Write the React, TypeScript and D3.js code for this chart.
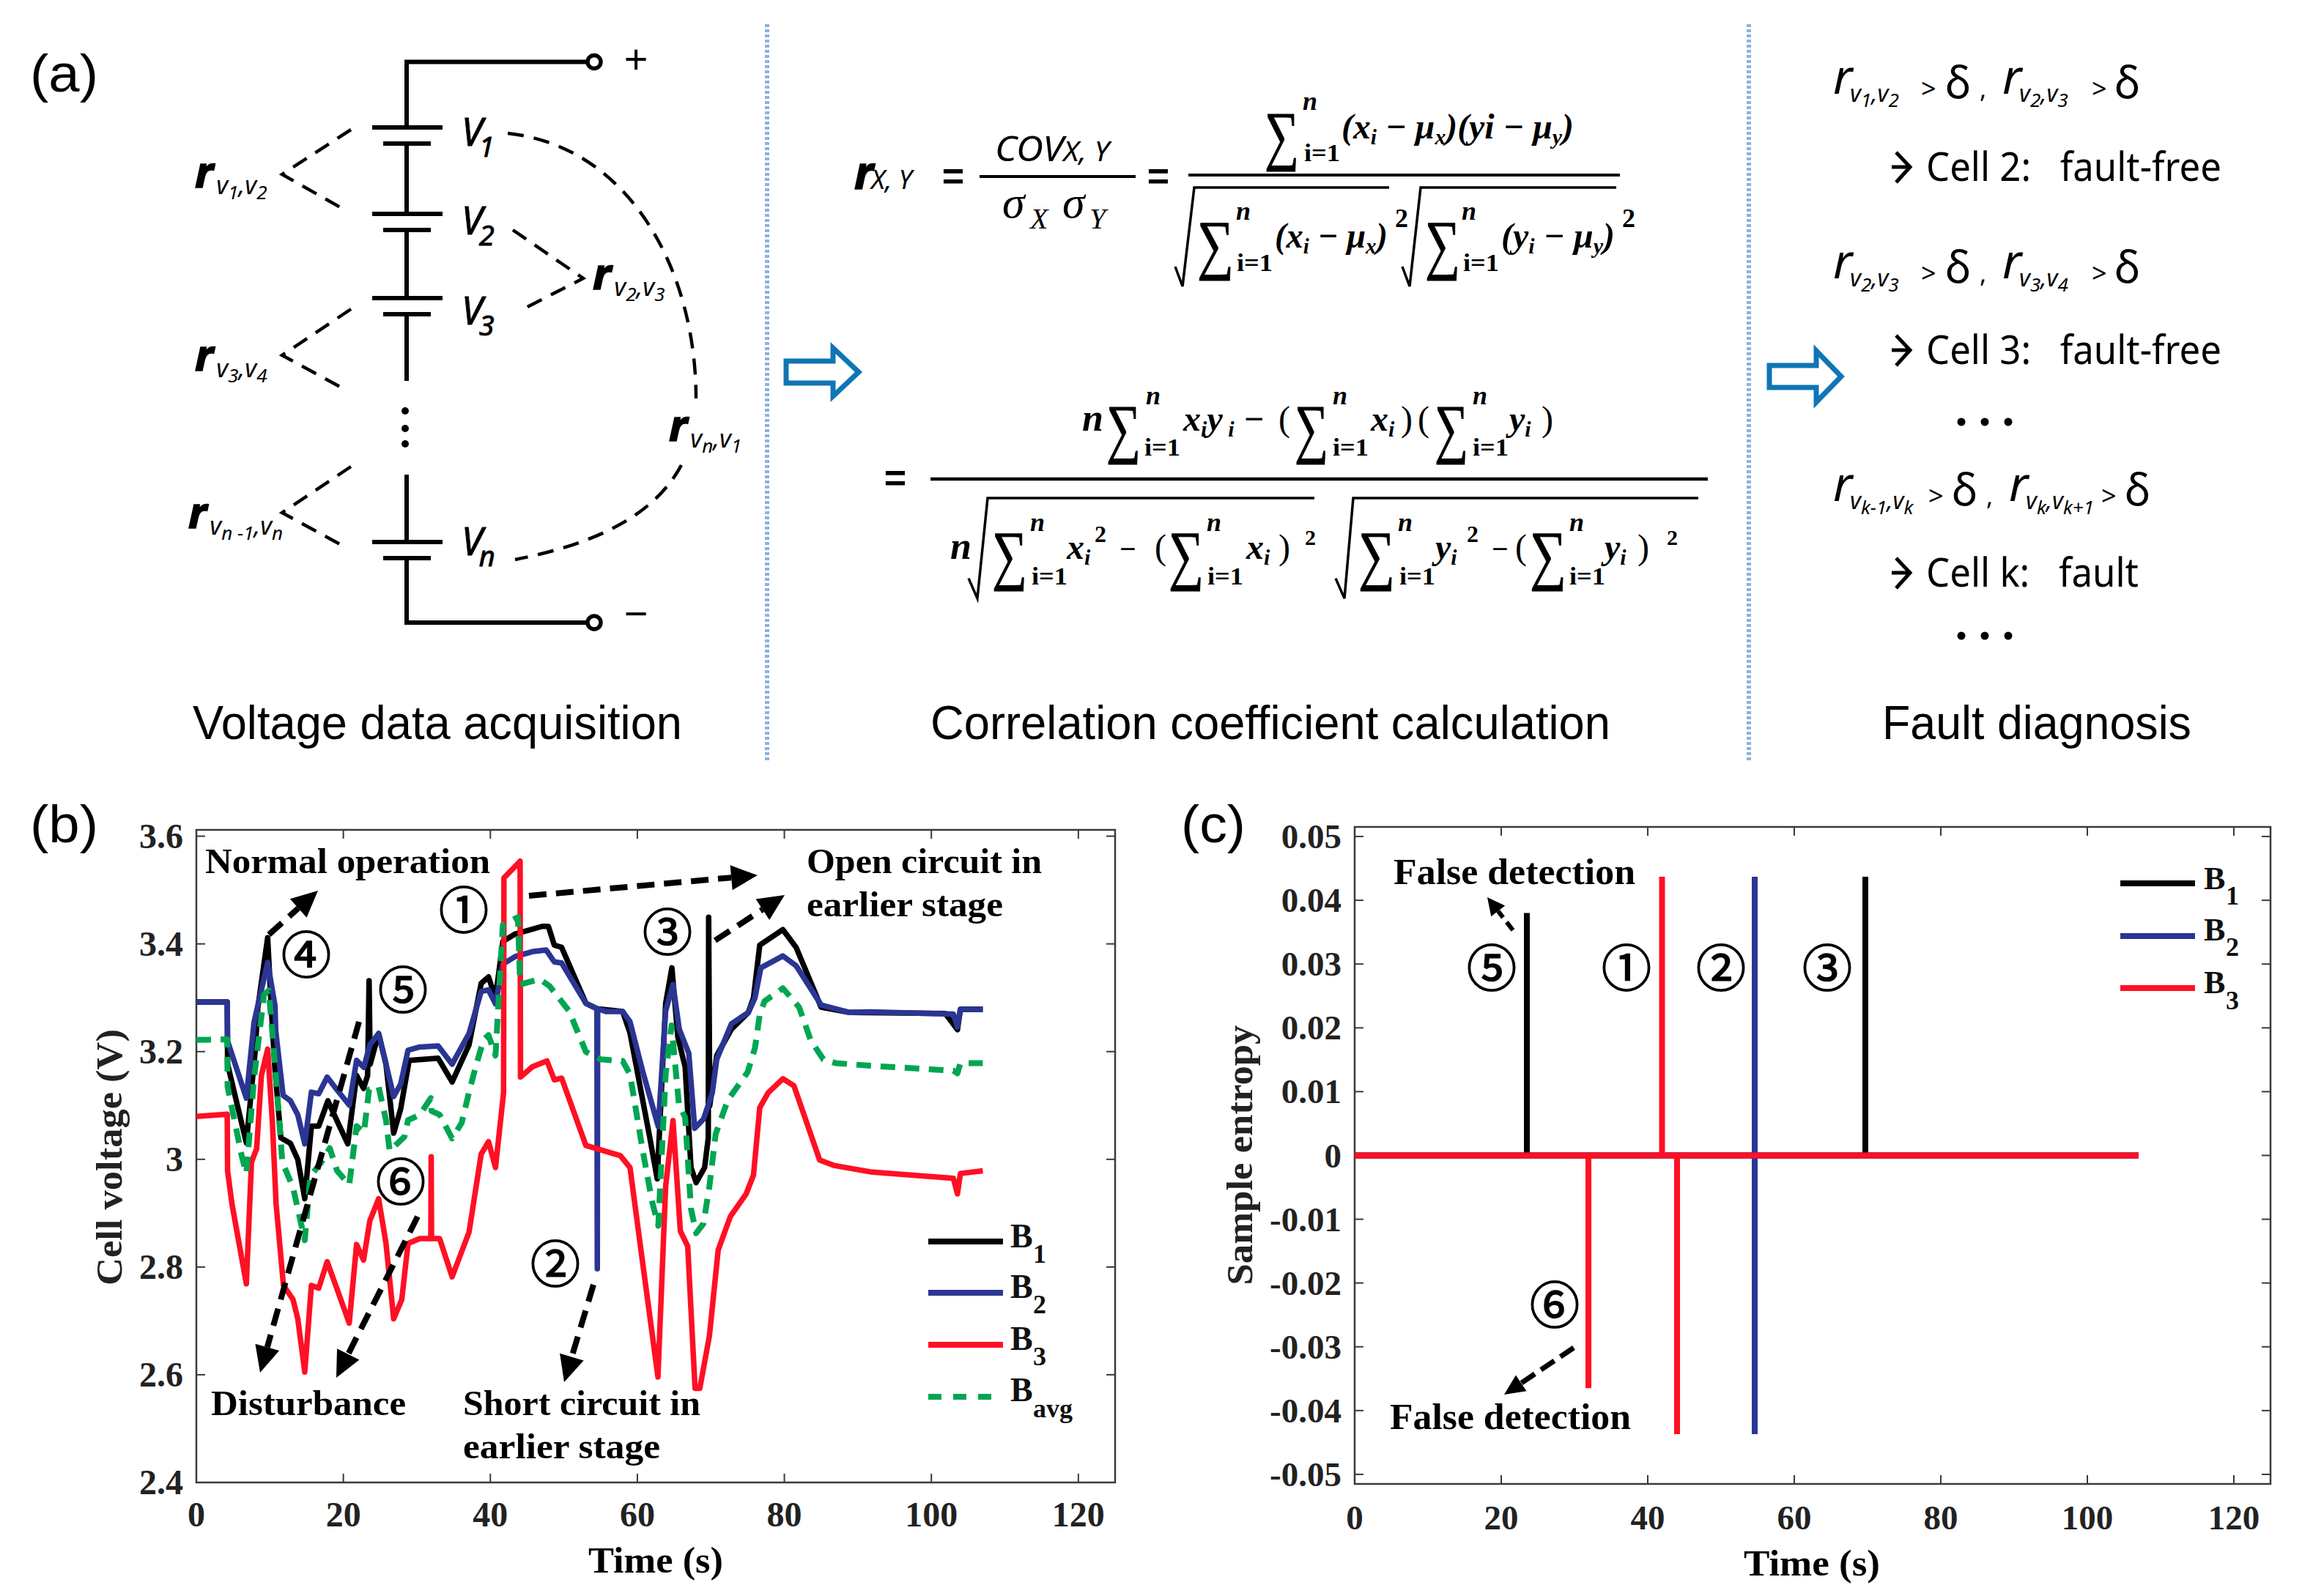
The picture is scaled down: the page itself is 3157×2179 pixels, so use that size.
import React from "react";
import * as d3 from "d3";

// ---------- data: panel (b) cell voltage, [time s, voltage V] ----------
const b1Points: [number, number][] = [[0,3.2925],[4.2,3.2925],[4.25,3.177],[6.8,3.031],[8,3.2],[8.35,3.28],[9.7,3.412],[10.2,3.28],[10.7,3.166],[11.5,3.04],[12.8,3.03],[13.8,3.0],[14.75,2.927],[15.65,3.062],[16.65,3.062],[17.9,3.109],[19.1,3.073],[20.6,3.029],[21.8,3.156],[22.75,3.132],[23.3,3.156],[23.5,3.332],[23.65,3.177],[24.8,3.234],[25.8,3.177],[26.85,3.049],[27.8,3.094],[28.95,3.184],[32.9,3.188],[34.8,3.144],[37.1,3.213],[38.75,3.327],[39.75,3.339],[40.7,3.3],[41.7,3.405],[43.4,3.419],[47.05,3.433],[47.9,3.433],[48.7,3.398],[49.7,3.394],[53,3.29],[54.5,3.28],[58,3.275],[59,3.235],[61.7,3.04],[62.7,2.964],[63.85,3.29],[64.7,3.356],[65.5,3.228],[66.5,3.172],[67.3,2.985],[68,2.957],[69.15,2.985],[69.65,3.04],[69.7,3.45],[69.85,3.1],[70.8,3.193],[72.8,3.242],[75.1,3.273],[75.8,3.3],[76.65,3.398],[79.8,3.427],[81.6,3.394],[85,3.283],[88.9,3.273],[101.9,3.271],[103.55,3.241],[103.95,3.279],[107,3.279]];
const b2Points: [number, number][] = [[0,3.2925],[4.2,3.2925],[4.25,3.22],[6.8,3.114],[7.85,3.255],[9.7,3.366],[10.7,3.286],[10.8,3.239],[11.8,3.119],[12.8,3.109],[13.8,3.083],[14.75,3.029],[15.65,3.125],[16.65,3.122],[17.8,3.153],[19.1,3.13],[20.8,3.101],[21.8,3.184],[22.8,3.171],[23.6,3.213],[24.8,3.234],[25.8,3.177],[26.85,3.117],[27.8,3.14],[28.8,3.203],[30.4,3.209],[32.9,3.211],[34.8,3.177],[37.1,3.234],[38.75,3.312],[39.75,3.315],[40.7,3.289],[41.7,3.363],[43.4,3.377],[45.7,3.386],[47.6,3.389],[48.7,3.367],[49.7,3.365],[53,3.29],[54.5,3.28],[54.55,2.797],[54.6,3.28],[55.7,3.275],[58,3.275],[59,3.256],[60.7,3.165],[62.85,3.061],[63.85,3.276],[64.85,3.325],[65.7,3.242],[67,3.197],[67.8,3.058],[69,3.075],[70.2,3.124],[70.8,3.186],[72.8,3.252],[75.1,3.273],[76,3.3],[76.8,3.356],[79.8,3.378],[81.6,3.36],[85,3.287],[88.9,3.273],[91.7,3.274],[103,3.27],[103.55,3.246],[103.95,3.279],[107,3.279]];
const b3Points: [number, number][] = [[0,3.08],[4.2,3.084],[4.25,2.979],[4.85,2.917],[6.8,2.769],[7.5,2.995],[8.2,3.02],[8.85,3.156],[9.7,3.205],[10.35,3.068],[10.85,2.917],[11.85,2.766],[13.15,2.74],[13.8,2.704],[14.75,2.605],[15.65,2.766],[16.65,2.761],[17.8,2.81],[19.1,2.761],[20.8,2.696],[21.8,2.842],[22.75,2.813],[23.6,2.886],[24.8,2.927],[25.8,2.844],[26.85,2.704],[27.95,2.74],[28.8,2.844],[30.4,2.853],[31.9,2.853],[31.95,3.005],[32,2.853],[33.1,2.853],[34.8,2.782],[37.1,2.865],[38.75,3.01],[39.75,3.033],[40.7,2.985],[41.8,3.124],[41.85,3.523],[44.05,3.554],[44.1,3.153],[45.7,3.172],[47.7,3.183],[48.7,3.148],[49.7,3.151],[53,3.026],[57.7,3.007],[59,2.985],[60.35,2.846],[62.8,2.596],[63.85,2.95],[64.85,3.072],[65.85,2.867],[66.85,2.839],[67.85,2.575],[68.5,2.575],[69.8,2.672],[71,2.832],[72.65,2.894],[74.8,2.936],[75.8,2.971],[76.65,3.096],[77.8,3.124],[79.8,3.15],[81.3,3.137],[84.8,2.999],[86.7,2.989],[91.7,2.977],[103,2.965],[103.55,2.936],[103.95,2.974],[107,2.979]];
const bAvgPoints: [number, number][] = [[0,3.222],[4.2,3.223],[4.25,3.135],[6.2,3.005],[6.8,2.974],[7.85,3.151],[9.2,3.306],[9.85,3.314],[10.7,3.177],[11.7,2.995],[13.15,2.948],[14.75,2.85],[15.5,2.969],[17,2.995],[18.15,3.021],[19.15,2.979],[20.8,2.953],[21.8,3.062],[22.8,3.05],[23.5,3.13],[24.8,3.135],[25.8,3.073],[26.3,3.016],[28.3,3.042],[28.8,3.073],[30.4,3.083],[31.9,3.114],[32,3.09],[33.1,3.083],[34.8,3.039],[36.1,3.068],[37.1,3.125],[38.1,3.177],[39.1,3.223],[39.75,3.231],[40.7,3.193],[41.7,3.436],[43.75,3.45],[44.05,3.325],[46.7,3.335],[48.05,3.322],[50.7,3.276],[53,3.2],[55,3.186],[58,3.183],[59,3.158],[60.7,3.019],[62,2.922],[62.85,2.877],[63.85,3.158],[64.65,3.249],[65.65,3.103],[66.5,3.078],[67.3,2.908],[68,2.863],[69,2.881],[69.8,2.95],[70.65,3.047],[72.3,3.11],[75,3.162],[76,3.207],[76.65,3.269],[77.3,3.294],[79.8,3.318],[82,3.283],[83.6,3.221],[85.3,3.186],[87,3.179],[91.7,3.174],[103,3.165],[103.55,3.16],[103.95,3.179],[107,3.179]];

// ---------- data: panel (c) sample entropy ----------
const c1Points: [number, number][] = [[0,0],[23.5,0],[23.5,0.038],[23.5,0],[69.7,0],[69.7,0.0437],[69.7,0],[107,0]];
const c2Points: [number, number][] = [[0,0],[54.6,0],[54.6,0.0437],[54.6,-0.0437],[54.6,0],[107,0]];
const c3Points: [number, number][] = [[0,0],[31.9,0],[31.9,-0.0365],[31.9,0],[41.95,0],[41.95,0.0437],[41.95,0],[44,0],[44,-0.0437],[44,0],[107,0]];

const bXTicks = [0, 20, 40, 60, 80, 100, 120];
const bYTicks = [3.6, 3.4, 3.2, 3, 2.8, 2.6, 2.4];
const cXTicks = [0, 20, 40, 60, 80, 100, 120];
const cYTicks = [0.05, 0.04, 0.03, 0.02, 0.01, 0, -0.01, -0.02, -0.03, -0.04, -0.05];

const BLACK = "#000000";
const BLUE = "#2b3593";
const RED = "#ff1024";
const GREEN = "#00a651";
const SERIF = "'Liberation Serif', serif";
const SANS = "'Liberation Sans', sans-serif";
const NOTO = "'Noto Sans', sans-serif";
const CJK = "'Noto Sans CJK JP', sans-serif";

// ---------- helpers ----------
type Pt = [number, number];

function DashArrow({ from, to, head = 36, w = 34, sw = 8, dash = "24 13" }: { from: Pt; to: Pt; head?: number; w?: number; sw?: number; dash?: string }) {
  const dx = to[0] - from[0], dy = to[1] - from[1];
  const L = Math.hypot(dx, dy), ux = dx / L, uy = dy / L;
  const bx = to[0] - ux * head, by = to[1] - uy * head;
  const pts = [to, [bx - uy * w / 2, by + ux * w / 2], [bx + uy * w / 2, by - ux * w / 2]].map((p) => p.join(",")).join(" ");
  return (
    <g>
      <line x1={from[0]} y1={from[1]} x2={bx} y2={by} stroke="#000" strokeWidth={sw} strokeDasharray={dash} />
      <polygon points={pts} fill="#000" />
    </g>
  );
}

function Circled({ c, x, y, size = 68 }: { c: string; x: number; y: number; size?: number }) {
  return <text x={x} y={y + size * 0.36} textAnchor="middle" fontFamily={CJK} fontSize={size} fill="#000" stroke="#000" strokeWidth={1.6}>{c}</text>;
}

function Cap({ x, y, w, size, children, family = SERIF, weight = "bold" }: { x: number; y: number; w: number; size: number; children: React.ReactNode; family?: string; weight?: string }) {
  return <text x={x} y={y} fontFamily={family} fontWeight={weight} fontSize={size} textLength={w} lengthAdjust="spacingAndGlyphs" fill="#000">{children}</text>;
}

function LegendEntry({ x1, x2, y, color, tx, ty, sub, subX, subY, size, subSize, dash }: any) {
  return (
    <g>
      <line x1={x1} x2={x2} y1={y} y2={y} stroke={color} strokeWidth={8} strokeDasharray={dash} />
      <text x={tx} y={ty} fontFamily={SERIF} fontWeight="bold" fontSize={size} fill="#111">B</text>
      <text x={subX} y={subY} fontFamily={SERIF} fontWeight="bold" fontSize={subSize} fill="#111">{sub}</text>
    </g>
  );
}

function Axes({ x, y, xTicks, yTicks, fs }: { x: d3.ScaleLinear<number, number>; y: d3.ScaleLinear<number, number>; xTicks: number[]; yTicks: number[]; fs: { xBase: number; yRight: number; size: number } }) {
  const [x0, x1] = x.range();
  const [y0, y1] = y.range();
  const color = "#3a3a3a";
  return (
    <g>
      <rect x={x0} y={y1} width={x1 - x0} height={y0 - y1} fill="none" stroke={color} strokeWidth={2.5} />
      {xTicks.map((t) => (
        <g key={t}>
          <line x1={x(t)} x2={x(t)} y1={y0} y2={y0 - 12} stroke={color} strokeWidth={2} />
          <line x1={x(t)} x2={x(t)} y1={y1} y2={y1 + 12} stroke={color} strokeWidth={2} />
          <text x={x(t)} y={fs.xBase} textAnchor="middle" fontFamily={SERIF} fontWeight="bold" fontSize={fs.size} fill="#222">{String(t)}</text>
        </g>
      ))}
      {yTicks.map((t) => (
        <g key={t}>
          <line x1={x0} x2={x0 + 12} y1={y(t)} y2={y(t)} stroke={color} strokeWidth={2} />
          <line x1={x1} x2={x1 - 12} y1={y(t)} y2={y(t)} stroke={color} strokeWidth={2} />
          <text x={fs.yRight} y={y(t) + 16} textAnchor="end" fontFamily={SERIF} fontWeight="bold" fontSize={fs.size} fill="#222">{String(t)}</text>
        </g>
      ))}
    </g>
  );
}

// ---- panel (a) helpers ----
function RLabel({ x, y, a, b, size = 60, subSize = 34, numSize = 26 }: { x: number; y: number; a: string; b: string; size?: number; subSize?: number; numSize?: number }) {
  return (
    <text x={x} y={y} fontFamily={NOTO} fill="#000" fontStyle="italic">
      <tspan fontSize={size} fontWeight="bold" stroke="#000" strokeWidth={1.5}>r</tspan>
      <tspan dx={4} dy={9} fontSize={subSize}>v</tspan>
      <tspan dy={7} fontSize={numSize}>{a}</tspan>
      <tspan dy={-7} fontSize={subSize}>,v</tspan>
      <tspan dy={7} fontSize={numSize}>{b}</tspan>
    </text>
  );
}

function VLabel({ x, y, s }: { x: number; y: number; s: string }) {
  return (
    <text x={x} y={y} fontFamily={NOTO} fontStyle="italic" fill="#000" stroke="#000" strokeWidth={0.9}>
      <tspan fontSize={52}>V</tspan>
      <tspan dy={15} fontSize={38} dx={-5}>{s}</tspan>
    </text>
  );
}

function Battery({ y1, y2 }: { y1: number; y2: number }) {
  return (
    <g stroke="#000" strokeWidth={6}>
      <line x1={508} x2={604} y1={y1} y2={y1} />
      <line x1={523} x2={588} y1={y2} y2={y2} />
    </g>
  );
}

const MATH = "'Liberation Serif', serif";

function M({ x, y, size = 46, children, bold = true, italic = true, w }: { x: number; y: number; size?: number; children: React.ReactNode; bold?: boolean; italic?: boolean; w?: number }) {
  return (
    <text x={x} y={y} fontFamily={MATH} fontWeight={bold ? "bold" : "normal"} fontStyle={italic ? "italic" : "normal"} fontSize={size} fill="#000" textLength={w} lengthAdjust={w ? "spacingAndGlyphs" : undefined}>{children}</text>
  );
}

function Sigma({ x, w, top, bottom, nx, ix, ny, iy }: { x: number; w: number; top: number; bottom: number; nx: number; ix: number; ny: number; iy: number }) {
  const h = bottom - top;
  return (
    <g>
      <text x={x} y={bottom} fontFamily={MATH} fontSize={h * 1.18} fill="#000" stroke="#000" strokeWidth={1} textLength={w} lengthAdjust="spacingAndGlyphs">∑</text>
      <M x={nx} y={ny} size={36}>n</M>
      <M x={ix} y={iy} size={34} italic={false} w={49}>i=1</M>
    </g>
  );
}

function Radical({ x0, x1, x2, xEnd, top, bottom }: { x0: number; x1: number; x2: number; xEnd: number; top: number; bottom: number }) {
  const my = bottom - (bottom - top) * 0.2;
  return <path d={`M${x0},${my} L${x1},${bottom} L${x2},${top} H${xEnd}`} fill="none" stroke="#000" strokeWidth={3.5} />;
}

function Frac({ x1, x2, y, sw = 4 }: { x1: number; x2: number; y: number; sw?: number }) {
  return <line x1={x1} x2={x2} y1={y} y2={y} stroke="#000" strokeWidth={sw} />;
}

function Eq({ x, y }: { x: number; y: number }) {
  return <text x={x} y={y} textAnchor="middle" fontFamily={SANS} fontWeight="bold" fontSize={52} fill="#000">=</text>;
}

function BlockArrow({ x0, xh, x1, cy, sh, hh }: { x0: number; xh: number; x1: number; cy: number; sh: number; hh: number }) {
  return (
    <path d={`M${x0},${cy - sh} H${xh} V${cy - hh} L${x1},${cy} L${xh},${cy + hh} V${cy + sh} H${x0} Z`} fill="#fff" stroke="#0f75b5" strokeWidth={7} />
  );
}

function Cond({ x, y, l1, gtX, dX }: { x: number; y: number; l1: [string, string]; gtX: number; dX: number }) {
  return (
    <g>
      <text x={x} y={y} fontFamily={NOTO} fontStyle="italic" fontSize={66} fill="#000">r</text>
      <text x={x + 23} y={y + 11} fontFamily={NOTO} fontStyle="italic" fill="#000">
        <tspan fontSize={32}>v</tspan>
        <tspan dy={7} fontSize={26}>{l1[0]}</tspan>
        <tspan dy={-7} fontSize={32}>,v</tspan>
        <tspan dy={7} fontSize={26}>{l1[1]}</tspan>
      </text>
      <text x={gtX} y={y + 6} fontFamily={NOTO} fontSize={36} fill="#000">&gt;</text>
      <text x={dX} y={y + 6} fontFamily={NOTO} fontSize={60} fill="#000">δ</text>
    </g>
  );
}

function CellLine({ y, text, w }: { y: number; text: string; w: number }) {
  return (
    <g>
      <path d={`M2582,${y - 19} H2607 M2588,${y - 39} L2607,${y - 19} L2588,${y + 2}`} fill="none" stroke="#000" strokeWidth={5} />
      <text x={2629} y={y} fontFamily={NOTO} fontSize={55} fill="#000" textLength={w} lengthAdjust="spacingAndGlyphs" style={{ whiteSpace: "pre" }}>{text}</text>
    </g>
  );
}

function Dots({ y }: { y: number }) {
  return <g>{[2677, 2709, 2741].map((x) => <circle key={x} cx={x} cy={y} r={5.5} fill="#000" />)}</g>;
}

// ---------- App ----------
export default function App() {
  const xB = d3.scaleLinear().domain([0, 125]).range([268, 1522]);
  const yB = d3.scaleLinear().domain([2.4, 3.6]).range([2024, 1142]);
  const yBAxis = d3.scaleLinear().domain([2.4, 3.6117]).range([2024, 1133]);
  const xC = d3.scaleLinear().domain([0, 125]).range([1849, 3099]);
  const yC = d3.scaleLinear().domain([-0.0515, 0.0515]).range([2026, 1129]);

  const lineB = d3.line<Pt>().x((d) => xB(d[0])).y((d) => yB(d[1])).curve(d3.curveLinear);
  const lineC = d3.line<Pt>().x((d) => xC(d[0])).y((d) => yC(d[1]));

  return (
    <svg width={3157} height={2179} viewBox="0 0 3157 2179" style={{ position: "absolute", left: 0, top: 0, background: "#fff" }}>
      {/* ---------- panel (a): circuit ---------- */}
      <Cap x={41} y={125} w={93} size={72} family={SANS} weight="normal">(a)</Cap>
      <path d="M811,84.5 H555 V174 M555,196 V292 M555,314 V407 M555,429 V520 M555,648 V740 M555,762 V850 H811" fill="none" stroke="#000" strokeWidth={6} />
      <circle cx={811} cy={84.5} r={9} fill="#fff" stroke="#000" strokeWidth={5.5} />
      <circle cx={811} cy={850} r={9} fill="#fff" stroke="#000" strokeWidth={5.5} />
      <Battery y1={174} y2={196} />
      <Battery y1={292} y2={314} />
      <Battery y1={407} y2={429} />
      <Battery y1={740} y2={762} />
      {[561, 585, 606].map((y) => <circle key={y} cx={553} cy={y} r={5} fill="#000" />)}
      <text x={868} y={100} textAnchor="middle" fontFamily={SANS} fontSize={56} fill="#000">+</text>
      <text x={868} y={857} textAnchor="middle" fontFamily={SANS} fontSize={56} fill="#000">−</text>
      <VLabel x={630} y={199} s="1" />
      <VLabel x={630} y={320} s="2" />
      <VLabel x={630} y={443} s="3" />
      <VLabel x={630} y={758} s="n" />
      <g fill="none" stroke="#000" strokeWidth={4.5} strokeDasharray="22 14">
        <path d="M479,177 L385,238 L466,284" />
        <path d="M700,314 L796,380 L714,422" />
        <path d="M479,422 L385,485 L466,529" />
        <path d="M479,637 L385,700 L466,744" />
        <path d="M693,182 C860,200 950,370 950,544" />
        <path d="M930,635 C890,710 800,745 703,764" />
      </g>
      <RLabel x={266} y={256} a="1" b="2" />
      <RLabel x={809} y={395} a="2" b="3" />
      <RLabel x={266} y={506} a="3" b="4" />
      <RLabel x={257} y={721} a="n -1" b="n" />
      <RLabel x={913} y={602} a="n" b="1" />
      <Cap x={263} y={1009} w={668} size={65} family={SANS} weight="normal">Voltage data acquisition</Cap>

      <line x1={1047} x2={1047} y1={33} y2={1040} stroke="#8fb1dd" strokeWidth={6} strokeDasharray="4 3" />
      <line x1={2387} x2={2387} y1={33} y2={1040} stroke="#8fb1dd" strokeWidth={6} strokeDasharray="4 3" />
      <BlockArrow x0={1073} xh={1137} x1={1172} cy={508} sh={15} hh={33} />
      <BlockArrow x0={2415} xh={2479} x1={2513} cy={514} sh={15} hh={35} />

      {/* ---------- panel (a): equations ---------- */}
      <text x={1166} y={258} fontFamily={NOTO} fontStyle="italic" fontWeight="bold" fontSize={62} fill="#000" stroke="#000" strokeWidth={1.5}>r</text>
      <text x={1189} y={258} fontFamily={NOTO} fontStyle="italic" fontSize={36} fill="#000">X, Y</text>
      <Eq x={1301} y={258} />
      <text x={1358} y={220} fontFamily={NOTO} fontStyle="italic" fontSize={48} fill="#000" textLength={156} lengthAdjust="spacingAndGlyphs">COV<tspan fontSize={38}>X, Y</tspan></text>
      <Frac x1={1337} x2={1550} y={241} />
      <M x={1368} y={297} size={62} bold={false}>σ</M>
      <M x={1406} y={312} size={40} bold={false}>X</M>
      <M x={1450} y={297} size={62} bold={false}>σ</M>
      <M x={1487} y={312} size={40} bold={false}>Y</M>
      <Eq x={1581} y={258} />
      <Frac x1={1622} x2={2211} y={239} />
      <Sigma x={1726} w={47} top={139} bottom={215} nx={1778} ny={150} ix={1780} iy={220} />
      <M x={1831} y={189} size={48} w={317}>(x<tspan fontSize={30} dy={8}>i</tspan><tspan dy={-8}> − μ</tspan><tspan fontSize={30} dy={8}>x</tspan><tspan dy={-8}>)(yi − μ</tspan><tspan fontSize={30} dy={8}>y</tspan><tspan dy={-8}>)</tspan></M>
      <Radical x0={1604} x1={1614} x2={1630} xEnd={1896} top={256} bottom={391} />
      <Radical x0={1914} x1={1924} x2={1939} xEnd={2206} top={256} bottom={391} />
      <Sigma x={1634} w={50} top={287} bottom={364} nx={1687} ny={300} ix={1688} iy={370} />
      <M x={1740} y={338} size={48} w={154}>(x<tspan fontSize={30} dy={8}>i</tspan><tspan dy={-8}> − μ</tspan><tspan fontSize={30} dy={8}>x</tspan><tspan dy={-8}>)</tspan></M>
      <M x={1904} y={310} size={36} italic={false}>2</M>
      <Sigma x={1945} w={48} top={287} bottom={364} nx={1995} ny={300} ix={1997} iy={370} />
      <M x={2049} y={338} size={48} w={155}>(y<tspan fontSize={30} dy={8}>i</tspan><tspan dy={-8}> − μ</tspan><tspan fontSize={30} dy={8}>y</tspan><tspan dy={-8}>)</tspan></M>
      <M x={2214} y={310} size={36} italic={false}>2</M>

      <M x={1477} y={588} size={52}>n</M>
      <Sigma x={1510} w={47} top={539} bottom={615} nx={1564} ny={552} ix={1562} iy={622} />
      <M x={1615} y={588} size={48} w={111}>x<tspan fontSize={30} dy={8}>i</tspan><tspan dy={-8}>y</tspan><tspan fontSize={30} dy={8}> i</tspan><tspan dy={-8}> −</tspan></M>
      <M x={1745} y={588} size={48} bold={false} italic={false}>(</M>
      <Sigma x={1767} w={46} top={539} bottom={615} nx={1819} ny={552} ix={1819} iy={622} />
      <M x={1871} y={588} size={48}>x<tspan fontSize={30} dy={8}>i</tspan></M>
      <M x={1912} y={588} size={48} bold={false} italic={false}>)</M>
      <M x={1935} y={588} size={48} bold={false} italic={false}>(</M>
      <Sigma x={1958} w={46} top={539} bottom={615} nx={2010} ny={552} ix={2010} iy={622} />
      <M x={2060} y={588} size={48}>y<tspan fontSize={30} dy={8}>i</tspan></M>
      <M x={2104} y={588} size={48} bold={false} italic={false}>)</M>
      <text x={1222} y={670} textAnchor="middle" fontFamily={SANS} fontWeight="bold" fontSize={52} fill="#000">=</text>
      <Frac x1={1270} x2={2331} y={654} sw={4.5} />

      <M x={1297} y={763} size={52}>n</M>
      <Radical x0={1322} x1={1334} x2={1348} xEnd={1794} top={680} bottom={817} />
      <Sigma x={1354} w={48} top={711} bottom={788} nx={1406} ny={725} ix={1408} iy={798} />
      <M x={1456} y={763} size={48}>x<tspan fontSize={30} dy={8}>i</tspan></M>
      <M x={1494} y={740} size={32} italic={false}>2</M>
      <M x={1528} y={763} size={40} italic={false}>−</M>
      <M x={1576} y={763} size={48} bold={false} italic={false}>(</M>
      <Sigma x={1595} w={48} top={711} bottom={788} nx={1647} ny={725} ix={1648} iy={798} />
      <M x={1701} y={763} size={48}>x<tspan fontSize={30} dy={8}>i</tspan></M>
      <M x={1745} y={763} size={48} bold={false} italic={false}>)</M>
      <M x={1781} y={744} size={30} italic={false}>2</M>
      <Radical x0={1823} x1={1835} x2={1847} xEnd={2318} top={680} bottom={817} />
      <Sigma x={1854} w={50} top={711} bottom={788} nx={1908} ny={725} ix={1910} iy={798} />
      <M x={1959} y={763} size={48}>y<tspan fontSize={30} dy={8}>i</tspan></M>
      <M x={2002} y={740} size={32} italic={false}>2</M>
      <M x={2036} y={763} size={40} italic={false}>−</M>
      <M x={2068} y={763} size={48} bold={false} italic={false}>(</M>
      <Sigma x={2088} w={50} top={711} bottom={788} nx={2142} ny={725} ix={2142} iy={798} />
      <M x={2190} y={763} size={48}>y<tspan fontSize={30} dy={8}>i</tspan></M>
      <M x={2235} y={763} size={48} bold={false} italic={false}>)</M>
      <M x={2275} y={744} size={30} italic={false}>2</M>
      <Cap x={1270} y={1009} w={928} size={65} family={SANS} weight="normal">Correlation coefficient calculation</Cap>

      {/* ---------- panel (a): diagnosis ---------- */}
      <Cond x={2502} y={128} l1={["1", "2"]} gtX={2622} dX={2655} />
      <text x={2702} y={134} fontFamily={NOTO} fontSize={34} fill="#000">,</text>
      <Cond x={2733} y={128} l1={["2", "3"]} gtX={2855} dX={2886} />
      <CellLine y={247} text="Cell 2:   fault-free" w={403} />
      <Cond x={2502} y={380} l1={["2", "3"]} gtX={2622} dX={2655} />
      <text x={2702} y={386} fontFamily={NOTO} fontSize={34} fill="#000">,</text>
      <Cond x={2733} y={380} l1={["3", "4"]} gtX={2855} dX={2886} />
      <CellLine y={497} text="Cell 3:   fault-free" w={403} />
      <Dots y={576} />
      <Cond x={2502} y={684} l1={["k-1", "k"]} gtX={2632} dX={2664} />
      <text x={2711} y={690} fontFamily={NOTO} fontSize={34} fill="#000">,</text>
      <Cond x={2742} y={684} l1={["k", "k+1"]} gtX={2868} dX={2900} />
      <CellLine y={801} text="Cell k:   fault" w={290} />
      <Dots y={868} />
      <Cap x={2569} y={1009} w={422} size={65} family={SANS} weight="normal">Fault diagnosis</Cap>

      {/* ---------- panel (b) ---------- */}
      <Cap x={41} y={1150} w={93} size={72} family={SANS} weight="normal">(b)</Cap>
      <Axes x={xB} y={yBAxis} xTicks={bXTicks} yTicks={bYTicks} fs={{ xBase: 2084, yRight: 250, size: 48 }} />
      <g fill="none" strokeWidth={7.5} strokeLinejoin="round">
        <path d={lineB(b1Points)!} stroke={BLACK} />
        <path d={lineB(b2Points)!} stroke={BLUE} />
        <path d={lineB(b3Points)!} stroke={RED} />
        <path d={lineB(bAvgPoints)!} stroke={GREEN} strokeWidth={8} strokeDasharray="20 13" />
      </g>
      <text transform="translate(166,1580) rotate(-90)" textAnchor="middle" fontFamily={SERIF} fontWeight="bold" fontSize={50} fill="#222" textLength={350} lengthAdjust="spacingAndGlyphs">Cell voltage (V)</text>
      <Cap x={803} y={2147} w={184} size={50}>Time (s)</Cap>

      <Cap x={280} y={1192} w={389} size={48}>Normal operation</Cap>
      <Cap x={288} y={1932} w={266} size={48}>Disturbance</Cap>
      <Cap x={632} y={1932} w={324} size={48}>Short circuit in</Cap>
      <Cap x={632} y={1991} w={269} size={48}>earlier stage</Cap>
      <Cap x={1101} y={1192} w={321} size={48}>Open circuit in</Cap>
      <Cap x={1101} y={1251} w={268} size={48}>earlier stage</Cap>
      <Circled c="①" x={633} y={1244} />
      <Circled c="④" x={418} y={1305} />
      <Circled c="⑤" x={550} y={1353} />
      <Circled c="⑥" x={547} y={1615} />
      <Circled c="②" x={758} y={1727} />
      <Circled c="③" x={911} y={1274} />
      <DashArrow from={[367, 1276]} to={[434, 1216]} />
      <DashArrow from={[490, 1395]} to={[355, 1874]} />
      <DashArrow from={[570, 1661]} to={[459, 1881]} />
      <DashArrow from={[722, 1223]} to={[1034, 1195]} />
      <DashArrow from={[810, 1754]} to={[770, 1887]} />
      <DashArrow from={[976, 1284]} to={[1071, 1222]} />

      <LegendEntry x1={1267} x2={1369} y={1695} color={BLACK} tx={1379} ty={1703} sub="1" subX={1410} subY={1724} size={46} subSize={36} />
      <LegendEntry x1={1267} x2={1369} y={1765} color={BLUE} tx={1379} ty={1772} sub="2" subX={1410} subY={1793} size={46} subSize={36} />
      <LegendEntry x1={1267} x2={1369} y={1836} color={RED} tx={1379} ty={1843} sub="3" subX={1410} subY={1864} size={46} subSize={36} />
      <LegendEntry x1={1267} x2={1369} y={1907} color={GREEN} dash="18 16" tx={1379} ty={1913} sub="avg" subX={1410} subY={1935} size={46} subSize={36} />

      {/* ---------- panel (c) ---------- */}
      <Cap x={1612} y={1150} w={88} size={72} family={SANS} weight="normal">(c)</Cap>
      <Axes x={xC} y={yC} xTicks={cXTicks} yTicks={cYTicks} fs={{ xBase: 2088, yRight: 1831, size: 47 }} />
      <g fill="none" strokeWidth={8}>
        <path d={lineC(c1Points)!} stroke={BLACK} />
        <path d={lineC(c2Points)!} stroke={BLUE} />
        <path d={lineC(c3Points)!} stroke={RED} />
      </g>
      <text transform="translate(1709,1577) rotate(-90)" textAnchor="middle" fontFamily={SERIF} fontWeight="bold" fontSize={50} fill="#222" textLength={355} lengthAdjust="spacingAndGlyphs">Sample entropy</text>
      <Cap x={2380} y={2151} w={186} size={50}>Time (s)</Cap>
      <Cap x={1902} y={1207} w={330} size={50}>False detection</Cap>
      <Cap x={1897} y={1951} w={329} size={50}>False detection</Cap>
      <Circled c="⑤" x={2036} y={1323} />
      <Circled c="①" x={2220} y={1323} />
      <Circled c="②" x={2349} y={1323} />
      <Circled c="③" x={2494} y={1323} />
      <Circled c="⑥" x={2122} y={1783} />
      <DashArrow from={[2065, 1270]} to={[2030, 1225]} head={24} w={24} sw={6} dash="14 8" />
      <DashArrow from={[2148, 1840]} to={[2053, 1904]} head={28} w={26} sw={7} dash="22 10" />
      <LegendEntry x1={2894} x2={2996} y={1206} color={BLACK} tx={3008} ty={1214} sub="1" subX={3038} subY={1235} size={44} subSize={36} />
      <LegendEntry x1={2894} x2={2996} y={1278} color={BLUE} tx={3008} ty={1284} sub="2" subX={3038} subY={1305} size={44} subSize={36} />
      <LegendEntry x1={2894} x2={2996} y={1349} color={RED} tx={3008} ty={1356} sub="3" subX={3038} subY={1378} size={44} subSize={36} />
    </svg>
  );
}
